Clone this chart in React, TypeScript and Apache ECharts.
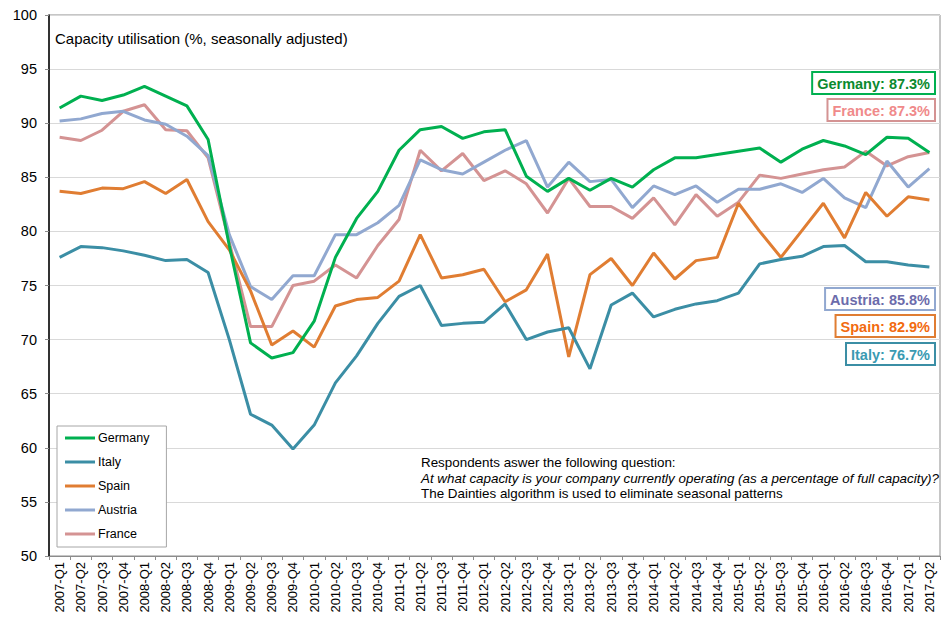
import React, { useEffect, useRef } from "react";
import * as echarts from "echarts";

const years = ["2007", "2008", "2009", "2010", "2011", "2012", "2013", "2014", "2015", "2016", "2017"];
const quarters: string[] = [];
years.forEach((y) => {
  ["Q1", "Q2", "Q3", "Q4"].forEach((q) => {
    if (y === "2017" && (q === "Q3" || q === "Q4")) return;
    quarters.push(`${y}-${q}`);
  });
});

const germany = [91.4, 92.5, 92.1, 92.6, 93.4, 92.5, 91.6, 88.5, 78.7, 69.7, 68.3, 68.8, 71.7, 77.6,
  81.2, 83.7, 87.5, 89.4, 89.7, 88.6, 89.2, 89.4, 85.1, 83.7, 84.9, 83.8, 84.9, 84.1,
  85.7, 86.8, 86.8, 87.1, 87.4, 87.7, 86.4, 87.6, 88.4, 87.9, 87.1, 88.7, 88.6, 87.3];
const italy = [77.6, 78.6, 78.5, 78.2, 77.8, 77.3, 77.4, 76.2, 70.0, 63.1, 62.1, 59.9, 62.1, 66.0,
  68.5, 71.5, 74.0, 75.0, 71.3, 71.5, 71.6, 73.3, 70.0, 70.7, 71.1, 67.3, 73.2, 74.3,
  72.1, 72.8, 73.3, 73.6, 74.3, 77.0, 77.4, 77.7, 78.6, 78.7, 77.2, 77.2, 76.9, 76.7];
const spain = [83.7, 83.5, 84.0, 83.95, 84.6, 83.5, 84.8, 80.9, 78.3, 74.5, 69.5, 70.8, 69.3, 73.1,
  73.7, 73.9, 75.4, 79.7, 75.7, 76.0, 76.5, 73.5, 74.6, 77.9, 68.4, 76.0, 77.5, 75.0,
  78.0, 75.6, 77.3, 77.6, 82.6, 80.0, 77.6, 80.1, 82.6, 79.4, 83.6, 81.4, 83.2, 82.9];
const austria = [90.2, 90.4, 90.9, 91.1, 90.3, 89.9, 88.8, 87.0, 79.7, 74.9, 73.7, 75.9, 75.9, 79.7,
  79.7, 80.8, 82.4, 86.6, 85.7, 85.3, 86.4, 87.5, 88.4, 84.1, 86.4, 84.6, 84.8, 82.2,
  84.2, 83.4, 84.2, 82.7, 83.9, 83.9, 84.4, 83.6, 84.9, 83.1, 82.2, 86.5, 84.1, 85.8];
const france = [88.7, 88.4, 89.35, 91.1, 91.7, 89.4, 89.3, 86.8, 79.0, 71.2, 71.2, 75.0, 75.4, 76.9,
  75.7, 78.7, 81.1, 87.5, 85.6, 87.2, 84.7, 85.6, 84.4, 81.7, 84.9, 82.3, 82.3, 81.2,
  83.1, 80.6, 83.4, 81.4, 82.7, 85.2, 84.9, 85.3, 85.7, 85.95, 87.4, 86.05, 86.9, 87.3];

const seriesNames = ["Germany", "Italy", "Spain", "Austria", "France"];
const seriesData = [germany, italy, spain, austria, france];
const seriesColors = ["#00b050", "#3b8ea5", "#e07d32", "#91a8d0", "#d49393"];

const yTicks = { min: 50, max: 100, interval: 5 };

const endLabels = [
  { text: "Germany: 87.3%", fill: "#0b8a2e", border: "#00b050", x: 936, y: 71 },
  { text: "France: 87.3%", fill: "#f08a8a", border: "#d49393", x: 936, y: 98 },
  { text: "Austria: 85.8%", fill: "#6c6cab", border: "#91a8d0", x: 936, y: 287 },
  { text: "Spain: 82.9%", fill: "#f26a0f", border: "#e07d32", x: 936, y: 314 },
  { text: "Italy: 76.7%", fill: "#3a9ab2", border: "#3b8ea5", x: 936, y: 342 },
];

const FONT = "'Liberation Sans', Arial, sans-serif";

export default function App() {
  const ref = useRef<HTMLDivElement>(null);
  useEffect(() => {
    if (!ref.current) return;
    const chart = echarts.init(ref.current, undefined, { renderer: "svg" });
    const option: any = {
      animation: false,
      backgroundColor: "#fff",
      textStyle: { fontFamily: FONT },
      grid: {
        left: 49, right: 2, top: 15, bottom: 65,
        show: true, borderColor: "#8c8c8c", borderWidth: 1, backgroundColor: "transparent",
      },
      legend: {
        orient: "vertical",
        left: 57, top: 426,
        data: seriesNames,
        icon: "rect",
        itemWidth: 30,
        itemHeight: 3,
        itemGap: 10,
        padding: [5, 17, 6, 8],
        borderColor: "#a6a6a6",
        borderWidth: 1,
        backgroundColor: "#fff",
        textStyle: { fontSize: 12.5, color: "#000", fontFamily: FONT, lineHeight: 14, padding: [0, 0, 0, -2] },
      },
      xAxis: {
        type: "category",
        data: quarters,
        boundaryGap: true,
        axisLine: { lineStyle: { color: "#8c8c8c", width: 1 } },
        axisTick: { show: true, length: 4, lineStyle: { color: "#8c8c8c" } },
        axisLabel: { rotate: 90, fontSize: 13, color: "#000", fontFamily: FONT, interval: 0, margin: 6 },
        splitLine: { show: false },
      },
      yAxis: {
        type: "value",
        min: yTicks.min, max: yTicks.max, interval: yTicks.interval,
        axisLine: { show: true, lineStyle: { color: "#000", width: 1.5 } },
        axisTick: { show: true, length: 4, lineStyle: { color: "#8c8c8c" } },
        axisLabel: { fontSize: 14.5, color: "#000", fontFamily: FONT, margin: 12 },
        splitLine: { show: true, lineStyle: { color: "#d9d9d9", width: 1 } },
      },
      series: seriesNames.map((name, i) => ({
        name,
        type: "line",
        data: seriesData[i],
        showSymbol: false,
        symbol: "none",
        lineStyle: { color: seriesColors[i], width: 3 },
        itemStyle: { color: seriesColors[i] },
        z: 10 - i,
      })),
      graphic: [
        {
          type: "text", left: 55, top: 31,
          style: { text: "Capacity utilisation (%, seasonally adjusted)", font: `15px ${FONT}`, fill: "#000" },
        },
        {
          type: "text", left: 421, top: 455,
          style: {
            text: "Respondents aswer the following question:\n{i|At what capacity is your company currently operating (as a percentage of full capacity)?}\nThe Dainties algorithm is used to eliminate seasonal patterns",
            font: `13.4px ${FONT}`, fill: "#000", lineHeight: 15.5,
            rich: { i: { fontStyle: "italic", fontSize: 13.4, fontFamily: FONT, lineHeight: 15.5, fill: "#000" } },
          },
        },
        ...endLabels.map((l) => ({
          type: "text",
          right: 942 - l.x,
          top: l.y,
          z: 100,
          style: {
            text: l.text,
            font: `bold 14.5px ${FONT}`,
            fill: l.fill,
            backgroundColor: "#fff",
            borderColor: l.border,
            borderWidth: 2,
            padding: [3, 4, 2, 4],
          },
        })),
      ],
    };
    chart.setOption(option);
    return () => chart.dispose();
  }, []);
  return <div ref={ref} style={{ width: 942, height: 621, position: "absolute", left: 0, top: 0 }} />;
}
